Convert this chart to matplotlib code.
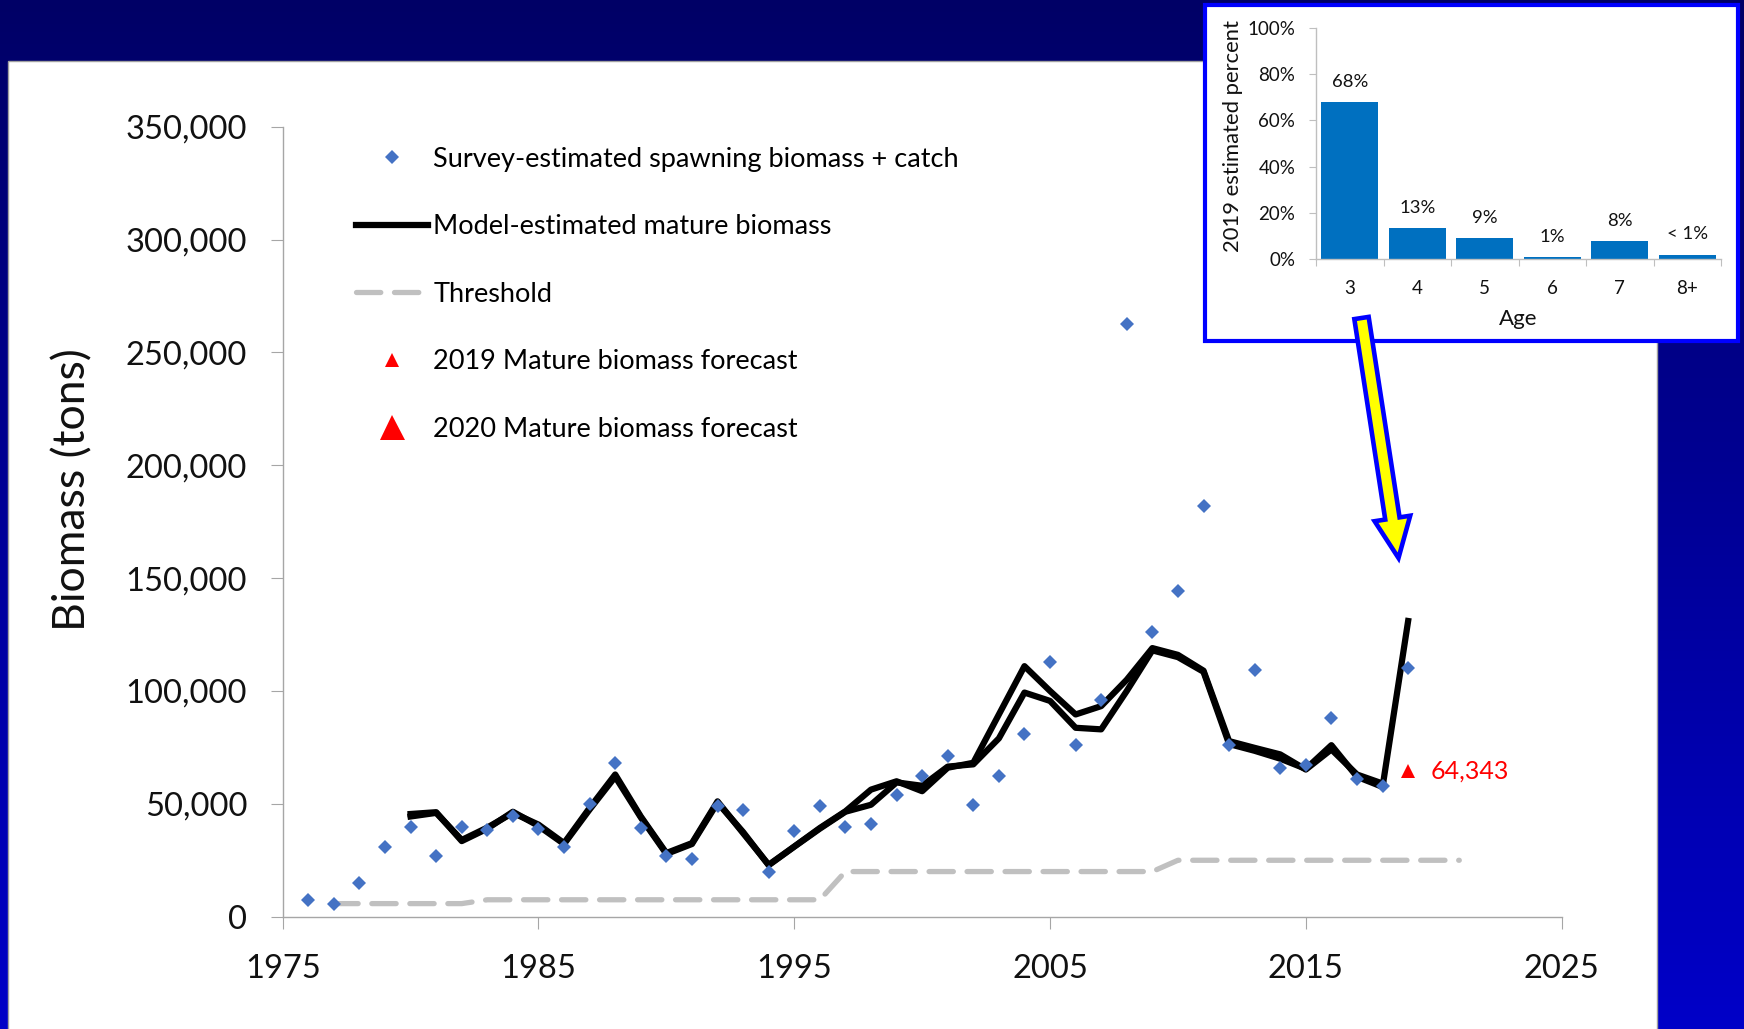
import matplotlib

matplotlib.use("Agg")

import matplotlib.pyplot as plt
import numpy as np
from matplotlib.colors import LinearSegmentedColormap
from matplotlib.lines import Line2D
from matplotlib.patches import FancyArrow, Rectangle
from matplotlib.ticker import FuncFormatter

plt.rcParams["font.family"] = ["Lato", "DejaVu Sans"]

W, H, DPI = 1744, 1029, 100

# --- data ------------------------------------------------------------------
survey_years = list(range(1976, 2020))
survey_biomass = [
    7400, 5600, 14800, 31100, 39700, 26700, 39700, 38500, 44400, 38800,
    30700, 50000, 68200, 39300, 26700, 25500, 48900, 47100, 20000, 38100,
    48900, 39700, 41200, 53800, 62500, 71100, 49600, 62500, 80800, 113000,
    76000, 96000, 262600, 126200, 144300, 182000, 75900, 109200, 66000, 67400,
    88200, 60800, 57800, 110000,
]

# two model runs that mostly overlap; the newer one carries on to 2019
model_years_a = list(range(1980, 2019))
model_biomass_a = [
    44400, 46000, 34000, 39500, 46000, 40800, 32600, 48200, 63000, 44400,
    28200, 32600, 51100, 37000, 23000, 31100, 39300, 46700, 56300, 60000,
    55600, 66000, 68200, 89600, 111000, 100000, 89600, 93300, 105000, 119000,
    116000, 109000, 77800, 74800, 71900, 65200, 74100, 63000, 59000,
]
model_years_b = list(range(1980, 2020))
model_biomass_b = [
    45500, 46300, 33500, 39000, 46500, 40200, 32200, 47500, 62000, 44000,
    27800, 32200, 50500, 37500, 22800, 31000, 39000, 46500, 49600, 59500,
    58000, 66500, 67500, 79000, 99300, 95600, 83700, 83000, 100000, 118000,
    115000, 108500, 76500, 73500, 70000, 65500, 76000, 62000, 57500, 131000,
]

threshold_years = list(range(1977, 2022))
threshold_biomass = [
    5800, 5800, 5800, 5800, 5800, 5800,
    7500, 7500, 7500, 7500, 7500, 7500, 7500, 7500, 7500, 7500, 7500, 7500, 7500, 7500,
    20000, 20000, 20000, 20000, 20000, 20000, 20000, 20000, 20000, 20000, 20000, 20000, 20000,
    25000, 25000, 25000, 25000, 25000, 25000, 25000, 25000, 25000, 25000, 25000, 25000,
]

forecast_2019_year = [2019]
forecast_2019_biomass = [64343]

ages = ["3", "4", "5", "6", "7", "8+"]
age_percent = [68, 13.3, 9, 1, 7.8, 1.9]
age_labels = ["68%", "13%", "9%", "1%", "8%", "< 1%"]

SURVEY_BLUE = "#4472C4"
BAR_BLUE = "#0070C0"
AXIS_GREY = "#A6A6A6"
TEXT = "#111111"


def fig_rect(x0, y0, x1, y1):
    """Pixel box (top-left origin) -> figure fraction rect."""
    return [x0 / W, 1 - y1 / H, (x1 - x0) / W, (y1 - y0) / H]


fig = plt.figure(figsize=(W / DPI, H / DPI), dpi=DPI)

# background: slide gradient + white chart panel
bg = fig.add_axes([0, 0, 1, 1], zorder=0)
bg.set_xlim(0, W)
bg.set_ylim(H, 0)
bg.axis("off")
slide_cmap = LinearSegmentedColormap.from_list("slide", ["#000066", "#0000C8"])
bg.imshow(np.linspace(0, 1, 256)[:, None], extent=[0, W, H, 0],
          cmap=slide_cmap, aspect="auto")
bg.add_patch(Rectangle((8, 61), 1649, 975, facecolor="white",
                       edgecolor="#A0A0A0", linewidth=1))

# --- main chart ---------------------------------------------------------------
ax = fig.add_axes(fig_rect(282.7, 126.7, 1561.6, 916.7), zorder=1)
ax.set_facecolor("none")

ax.plot(threshold_years, threshold_biomass, color="#C0C0C0", linewidth=3.8,
        dashes=(4.6, 2.6), dash_capstyle="round", zorder=2)
ax.plot(model_years_a, model_biomass_a, color="black", linewidth=4.5, zorder=3)
ax.plot(model_years_b, model_biomass_b, color="black", linewidth=4.5, zorder=3)
ax.plot(survey_years, survey_biomass, "D", color=SURVEY_BLUE, markersize=7.5,
        markeredgewidth=0, zorder=4)
ax.plot(forecast_2019_year, forecast_2019_biomass, "^", color="red",
        markersize=10, markeredgewidth=0, zorder=5)
ax.annotate(f"{forecast_2019_biomass[0]:,}",
            (forecast_2019_year[0], forecast_2019_biomass[0]),
            xytext=(16, 0), textcoords="offset points", va="center",
            color="red", fontsize=18)

ax.set_xlim(1975, 2025)
ax.set_ylim(0, 350000)
ax.set_xticks(range(1975, 2026, 10))
ax.set_yticks(range(0, 350001, 50000))
ax.yaxis.set_major_formatter(FuncFormatter(lambda v, _: f"{int(v):,}"))
for side in ("top", "right"):
    ax.spines[side].set_visible(False)
for side in ("left", "bottom"):
    ax.spines[side].set_color(AXIS_GREY)
    ax.spines[side].set_linewidth(1)
ax.tick_params(axis="both", direction="out", length=8.6, width=0.8,
               color=AXIS_GREY, labelsize=23.5, labelcolor=TEXT)
ax.tick_params(axis="y", pad=17)
ax.tick_params(axis="x", pad=18)
ax.set_ylabel("Biomass (tons)", fontsize=32, color=TEXT)
ax.yaxis.set_label_coords(-0.148, 0.54)

legend_handles = [
    Line2D([], [], marker="D", color=SURVEY_BLUE, linestyle="none",
           markersize=7.5, markeredgewidth=0),
    Line2D([], [], color="black", linewidth=4.5),
    Line2D([], [], color="#C0C0C0", linewidth=3.8, dashes=(4.6, 2.6),
           dash_capstyle="round"),
    Line2D([], [], marker="^", color="red", linestyle="none", markersize=10,
           markeredgewidth=0),
    Line2D([], [], marker="^", color="red", linestyle="none", markersize=18,
           markeredgewidth=0),
]
legend_labels = [
    "Survey-estimated spawning biomass + catch",
    "Model-estimated mature biomass",
    "Threshold",
    "2019 Mature biomass forecast",
    "2020 Mature biomass forecast",
]
ax.legend(legend_handles, legend_labels, loc="upper left",
          bbox_to_anchor=(356 / W, 1 - 146.5 / H), bbox_transform=fig.transFigure,
          frameon=False, fontsize=19.5, handlelength=2.65, handletextpad=0.2,
          labelspacing=1.57, borderpad=0, borderaxespad=0)

# --- inset: age composition ----------------------------------------------------
ov = fig.add_axes([0, 0, 1, 1], zorder=2)
ov.set_xlim(0, W)
ov.set_ylim(H, 0)
ov.axis("off")
ov.add_patch(Rectangle((1204.5, 4.5), 533, 336, facecolor="white",
                       edgecolor="#0000FF", linewidth=3))

ins = fig.add_axes(fig_rect(1316, 27.8, 1721, 259), zorder=3)
ins.set_facecolor("none")
x = np.arange(len(ages))
ins.bar(x, age_percent, width=0.85, color=BAR_BLUE)
for xi, v, lbl in zip(x, age_percent, age_labels):
    ins.annotate(lbl, (xi, v), xytext=(0, 14.5), textcoords="offset points",
                 ha="center", va="center", fontsize=13.3, color=TEXT)
ins.set_xlim(-0.5, len(ages) - 0.5)
ins.set_ylim(0, 100)
ins.set_yticks(range(0, 101, 20))
ins.yaxis.set_major_formatter(FuncFormatter(lambda v, _: f"{int(v)}%"))
ins.set_xticks(x)
ins.set_xticklabels(ages)
ins.set_xticks(np.arange(-0.5, len(ages)), minor=True)
for side in ("top", "right"):
    ins.spines[side].set_visible(False)
for side in ("left", "bottom"):
    ins.spines[side].set_color("#BFBFBF")
    ins.spines[side].set_linewidth(1)
ins.tick_params(axis="x", which="major", length=0, pad=15, labelsize=13.5,
                labelcolor=TEXT)
ins.tick_params(axis="x", which="minor", length=5, width=0.8, color="#BFBFBF",
                direction="out")
ins.tick_params(axis="y", length=5, width=0.8, color="#BFBFBF", pad=10,
                labelsize=13.5, labelcolor=TEXT)
ins.set_xlabel("Age", fontsize=16, color=TEXT, labelpad=9)
ins.set_ylabel("2019 estimated percent", fontsize=15.8, color=TEXT)
ins.yaxis.set_label_coords(-0.18, 0.53)

# yellow arrow from the inset down to the 2019 spike
ov2 = fig.add_axes([0, 0, 1, 1], zorder=4)
ov2.set_xlim(0, W)
ov2.set_ylim(H, 0)
ov2.axis("off")
ov2.add_patch(FancyArrow(1361.5, 318, 1398.5 - 1361.5, 558 - 318, width=14.5,
                         head_width=36, head_length=40,
                         length_includes_head=True, facecolor="#FFFF00",
                         edgecolor="#0000FF", linewidth=3.3,
                         joinstyle="miter"))

fig.savefig("out.png", dpi=DPI)
plt.close(fig)
